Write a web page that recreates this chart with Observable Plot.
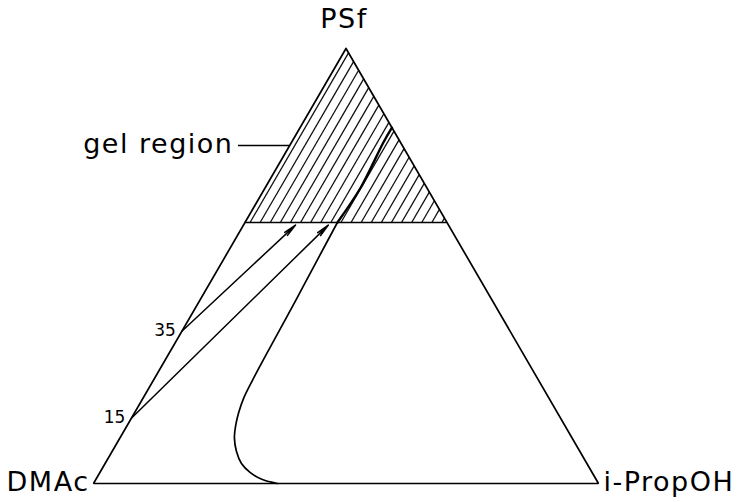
<!DOCTYPE html>
<html>
<head>
<meta charset="utf-8">
<script src="https://cdn.jsdelivr.net/npm/d3@7"></script>
<script src="https://cdn.jsdelivr.net/npm/@observablehq/plot@0.6"></script>
<style>
  html, body { margin: 0; padding: 0; background: #fff; }
  #chart svg { display: block; }
  .corner text, .note text { letter-spacing: 1.5px; }
</style>
</head>
<body>
<div id="chart"></div>
<script>
// Ternary diagram PSf / DMAc / i-PropOH (mass fractions).
// Each composition is given as (PSf, i-PropOH); DMAc is the remainder.
const cornerNames = ["PSf", "DMAc", "i-PropOH"];
const cornerPSf = [1, 0, 0];
const cornerIPA = [0, 0, 1];

// Binodal (cloud point) curve
const binodalPSf = [0, 0.009, 0.025, 0.046, 0.074, 0.106, 0.133, 0.163, 0.198, 0.240, 0.320, 0.420, 0.520, 0.600];
const binodalIPA = [0.364, 0.330, 0.298, 0.270, 0.246, 0.226, 0.215, 0.206, 0.199, 0.196, 0.193, 0.190, 0.186, 0.183];

// Continuation of the curve inside the gel region
const gelCurvePSf = [0.600, 0.681, 0.784, 0.818];
const gelCurveIPA = [0.183, 0.189, 0.182, 0.182];

// Lower boundary of the gel region
const gelBoundaryPSf = 0.60;

// Hatching of the gel region: lines of constant i-PropOH content
const hatchIPA = [0.01, 0.03, 0.05, 0.07, 0.09, 0.11, 0.13, 0.15, 0.17, 0.19,
                  0.21, 0.23, 0.25, 0.27, 0.29, 0.31, 0.33, 0.35, 0.37, 0.39];

// Composition paths of the casting solutions (initial PSf content in %)
const startLabels = ["15", "35"];
const startPSf = [0.15, 0.35];
const endPSf = [0.594, 0.594];
const endIPA = [0.168, 0.103];

// Label for the hatched area, pointing at the PSf/DMAc side
const gelLabel = "gel region";
const gelLabelPSf = 0.777;

// ternary -> cartesian (x along the base, y = PSf fraction)
const tx = (psf, ipa) => ipa + psf / 2;
const ty = (psf) => psf;

const outline = [0, 1, 2, 0].map(i => ({x: tx(cornerPSf[i], cornerIPA[i]), y: ty(cornerPSf[i])}));
const corners = cornerNames.map((name, i) => ({name, x: tx(cornerPSf[i], cornerIPA[i]), y: ty(cornerPSf[i])}));
const binodal = binodalPSf.map((p, i) => ({x: tx(p, binodalIPA[i]), y: ty(p)}));
const gelCurve = gelCurvePSf.map((p, i) => ({x: tx(p, gelCurveIPA[i]), y: ty(p)}));
const gelBoundary = [
  {x1: tx(gelBoundaryPSf, 0), x2: tx(gelBoundaryPSf, 1 - gelBoundaryPSf), y: ty(gelBoundaryPSf)}
];
const hatch = hatchIPA.map(b => ({
  x1: tx(gelBoundaryPSf, b), y1: ty(gelBoundaryPSf),
  x2: tx(1 - b, b), y2: ty(1 - b)
}));
const paths = startPSf.map((p, i) => ({
  label: startLabels[i],
  x1: tx(p, 0), y1: ty(p),
  x2: tx(endPSf[i], endIPA[i]), y2: ty(endPSf[i])
}));
const gelAnchor = {x: tx(gelLabelPSf, 0), y: ty(gelLabelPSf)};
const gelLeader = [{x1: gelAnchor.x - 0.1015, x2: gelAnchor.x, y: gelAnchor.y}];

const font = "DejaVu Sans, sans-serif";

const chart = Plot.plot({
  width: 740,
  height: 502,
  marginLeft: 93,
  marginRight: 142,
  marginTop: 48,
  marginBottom: 19,
  x: {domain: [0, 1], axis: null},
  y: {domain: [0, 1], axis: null},
  style: {fontFamily: font, background: "#fff", color: "#000"},
  marks: [
    // hatching
    Plot.link(hatch, {x1: "x1", y1: "y1", x2: "x2", y2: "y2", stroke: "#111", strokeWidth: 1.3}),
    // gel boundary
    Plot.ruleY(gelBoundary, {x1: "x1", x2: "x2", y: "y", stroke: "#000", strokeWidth: 1.6}),
    // triangle
    Plot.line(outline, {x: "x", y: "y", stroke: "#000", strokeWidth: 1.7, strokeLinejoin: "miter"}),
    // binodal
    Plot.line(binodal, {x: "x", y: "y", curve: "catmull-rom", stroke: "#000", strokeWidth: 1.7}),
    Plot.line(gelCurve, {x: "x", y: "y", curve: "catmull-rom", stroke: "#000", strokeWidth: 2.4}),
    // composition paths
    Plot.arrow(paths, {x1: "x1", y1: "y1", x2: "x2", y2: "y2", stroke: "#000", strokeWidth: 1.5, headLength: 13, headAngle: 18}),
    Plot.text(paths, {x: "x1", y: "y1", text: "label", textAnchor: "end", dx: -6, dy: -1, fontSize: 17, fill: "#000"}),
    // corner labels
    Plot.text(corners.filter(d => d.name === "PSf"), {x: "x", y: "y", text: "name", textAnchor: "middle", lineAnchor: "bottom", dy: -21, dx: -2, fontSize: 27, fill: "#000", className: "corner"}),
    Plot.text(corners.filter(d => d.name === "DMAc"), {x: "x", y: "y", text: "name", textAnchor: "end", lineAnchor: "middle", dx: -4, dy: -1, fontSize: 27, fill: "#000", className: "corner"}),
    Plot.text(corners.filter(d => d.name === "i-PropOH"), {x: "x", y: "y", text: "name", textAnchor: "start", lineAnchor: "middle", dx: 5, dy: -1, fontSize: 27, fill: "#000", className: "corner"}),
    // gel region label with leader
    Plot.ruleY(gelLeader, {x1: "x1", x2: "x2", y: "y", stroke: "#000", strokeWidth: 1.3}),
    Plot.text([gelLeader[0]], {x: "x1", y: "y", text: () => gelLabel, textAnchor: "end", lineAnchor: "middle", dx: -5, dy: -1, fontSize: 27, fill: "#000", className: "note"})
  ]
});

document.getElementById("chart").appendChild(chart);
</script>
</body>
</html>
